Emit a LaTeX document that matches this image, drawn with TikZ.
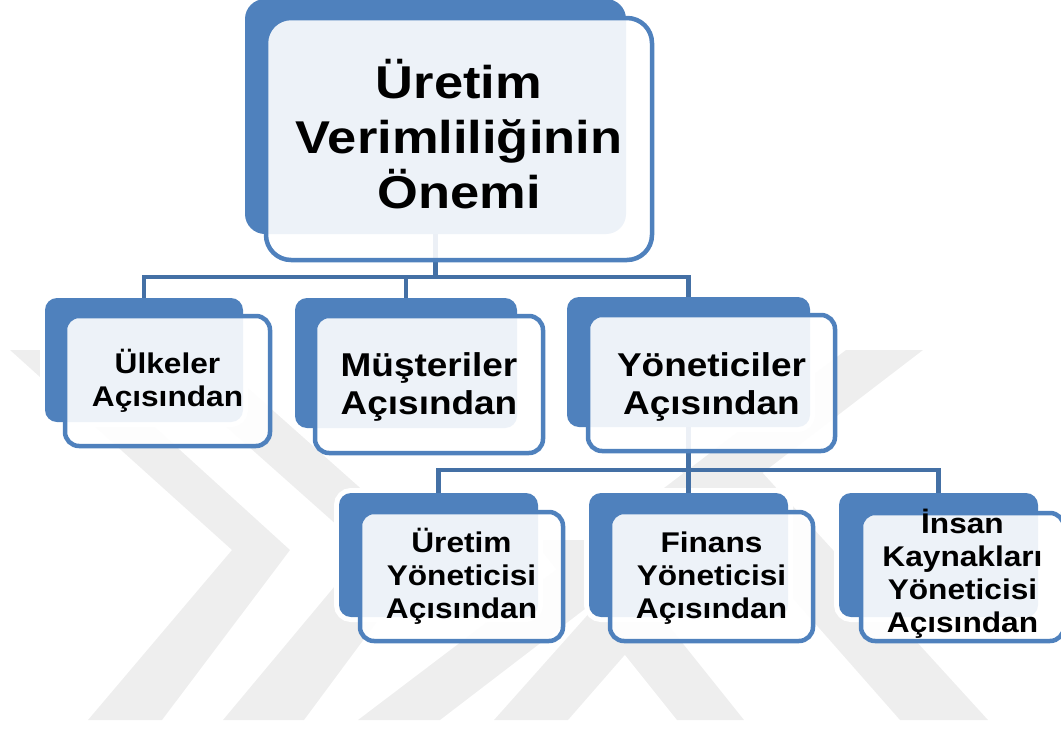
\documentclass[tikz,border=0pt]{standalone}
\usepackage{fontspec}
\setmainfont{Liberation Sans}
\definecolor{boxblue}{HTML}{4F81BD}
\definecolor{linkblue}{HTML}{4470A5}
\definecolor{wmgray}{HTML}{EEEEEE}
\begin{document}
\begin{tikzpicture}[x=1pt,y=-1pt,
  backbox/.style={rectangle, rounded corners=12pt, fill=boxblue,
    preaction={draw=white, line width=10pt}, inner sep=0pt, outer sep=0pt},
  frontbox/.style={rectangle, rounded corners=14pt, draw=boxblue, line width=4.5pt,
    fill=white, fill opacity=0.9, inner sep=0pt, outer sep=0pt},
  conn/.style={draw=linkblue, line width=4.5pt, line join=miter},
  lbl/.style={align=center, inner sep=0pt},
  bigtxt/.style={lbl, xscale=1.14, font=\bfseries\fontsize{46}{55}\selectfont},
  midtxt/.style={lbl, xscale=1.12, font=\bfseries\fontsize{33}{38}\selectfont},
  smalltxt/.style={lbl, xscale=1.11, font=\bfseries\fontsize{28.5}{33}\selectfont},
  wm/.style={fill=wmgray}]
\useasboundingbox (0,0) rectangle (1061,731);

% faint background emblem
\fill[wm] (10,350) -- (70,350) -- (290,550) -- (162,720) -- (88,720) -- (232,550) -- cycle;
\fill[wm] (140,350) -- (205,350) -- (430,550) -- (304,720) -- (223,720) -- (365,550) -- cycle;
\fill[wm] (358,720) -- (440,720) -- (923,350) -- (846,350) -- cycle;
\fill[wm] (494,720) -- (568,720) -- (760,500) -- (690,500) -- cycle;
\fill[wm] (677,720) -- (744,720) -- (600,540) -- (533,540) -- cycle;
\fill[wm] (900,720) -- (988,720) -- (760,470) -- (680,470) -- cycle;

% blue back plates
\node[backbox, rounded corners=20pt, minimum width=381pt, minimum height=235pt] (b0) at (435.5,116.5) {};
\node[backbox, minimum width=198pt, minimum height=124pt] (b1) at (144,360) {};
\node[backbox, minimum width=222pt, minimum height=130pt] (b2) at (406,363) {};
\node[backbox, minimum width=243pt, minimum height=130pt] (b3) at (688.5,362) {};
\node[backbox, minimum width=199pt, minimum height=124pt] (b4) at (438.5,555) {};
\node[backbox, minimum width=199pt, minimum height=124pt] (b5) at (688.5,555) {};
\node[backbox, minimum width=199pt, minimum height=124pt] (b6) at (938.5,555) {};

% hierarchy connectors
\draw[conn] (b0.south) -- ++(0,43) -| (b1.north);
\draw[conn] (b0.south) -- ++(0,43) -| (b2.north);
\draw[conn] (b0.south) -- ++(0,43) -| (b3.north);
\draw[conn] (b3.south) -- ++(0,43) -| (b4.north);
\draw[conn] (b3.south) -- ++(0,43) -| (b5.north);
\draw[conn] (b3.south) -- ++(0,43) -| (b6.north);

% translucent front panels
\node[frontbox, rounded corners=25pt, minimum width=386pt, minimum height=242pt] (f0) at (459,139) {};
\node[frontbox, minimum width=205pt, minimum height=130pt] (f1) at (167.5,381) {};
\node[frontbox, minimum width=228pt, minimum height=137pt] (f2) at (429,384.5) {};
\node[frontbox, minimum width=247pt, minimum height=136pt] (f3) at (711.5,383) {};
\node[frontbox, minimum width=203pt, minimum height=129pt] (f4) at (461.5,576.5) {};
\node[frontbox, minimum width=203pt, minimum height=129pt] (f5) at (711.5,576.5) {};
\node[frontbox, minimum width=203pt, minimum height=128pt] (f6) at (962.5,577) {};

% labels
\node[bigtxt, yshift=4.8pt] (t0) at (f0) {Üretim\\Verimliliğinin\\Önemi};
\node[smalltxt] (t1) at (f1) {Ülkeler\\Açısından};
\node[midtxt, yshift=-2.8pt] (t2) at (f2) {Müşteriler\\Açısından};
\node[midtxt, yshift=-4.3pt] (t3) at (f3) {Yöneticiler\\Açısından};
\node[smalltxt] (t4) at (f4) {Üretim\\Yöneticisi\\Açısından};
\node[smalltxt, yshift=-2.1pt] (t5) at (f5) {Finans\\Yöneticisi\\Açısından};
\node[smalltxt, yshift=3.4pt] (t6) at (f6) {İnsan\\Kaynakları\\Yöneticisi\\Açısından};
\end{tikzpicture}
\end{document}
